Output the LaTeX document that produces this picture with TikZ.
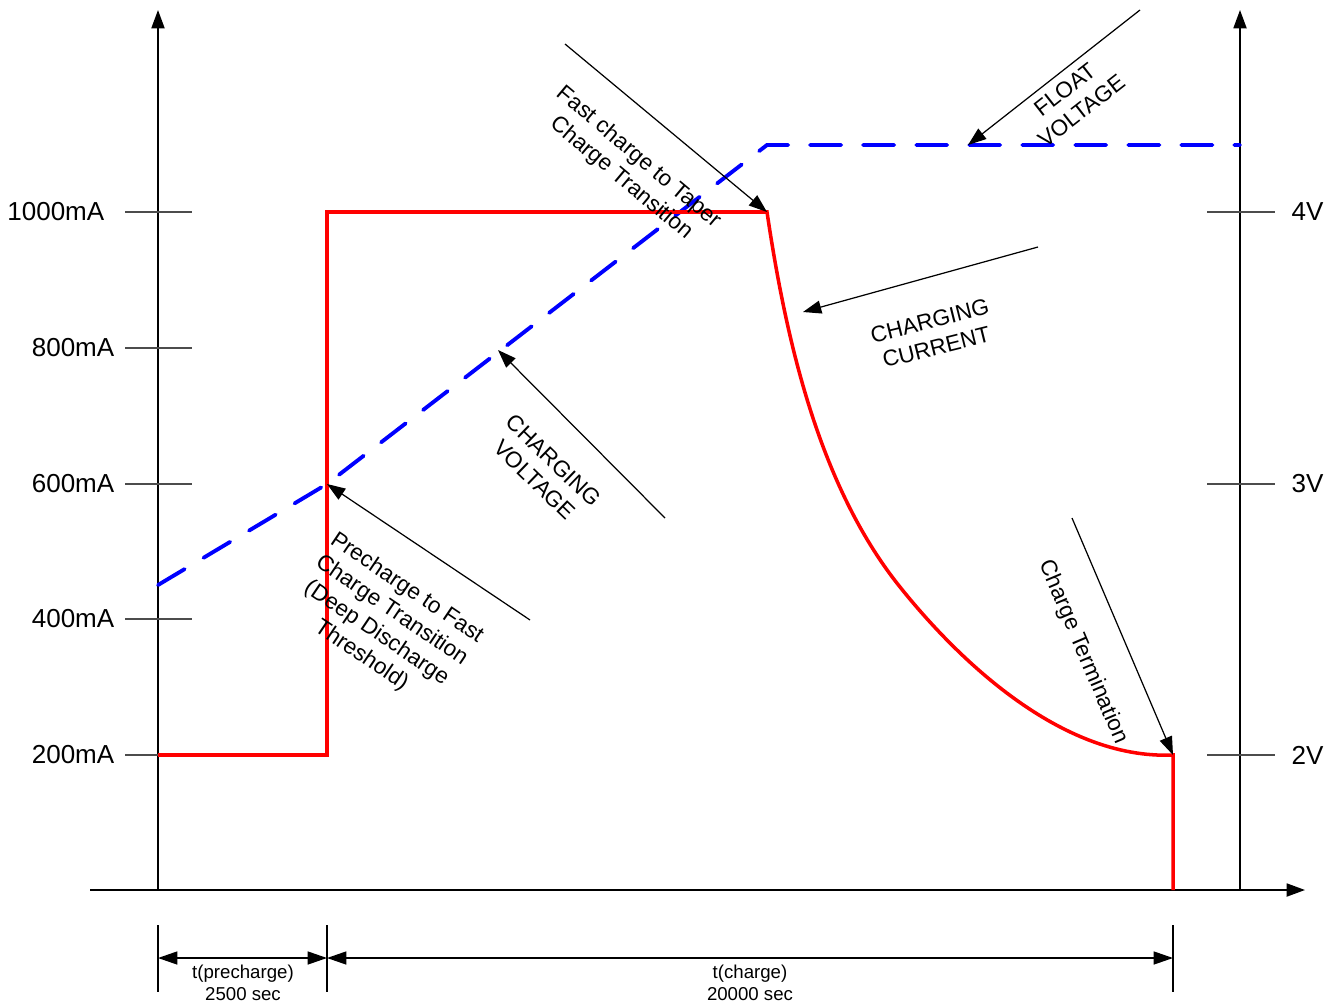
\documentclass[tikz,border=0pt]{standalone}
\usepackage{fontspec}
\setmainfont{Liberation Sans}
\usepackage{xcolor}
\usepackage{tikz}
\usetikzlibrary{arrows.meta}

\begin{document}
\begin{tikzpicture}[x=0.01cm, y=-0.01cm,
        axis/.style={line width=0.5pt, -{Triangle[length=5.2pt,width=3.7pt]}},
        tickmark/.style={line width=0.5pt, black!70},
        current/.style={line width=1pt, red},
        voltage/.style={line width=1.1pt, blue, line cap=round, dash pattern=on 0.31cm off 0.22cm},
        note/.style={line width=0.35pt, -{Triangle[length=5.2pt,width=3.7pt]}},
        dimline/.style={line width=0.4pt, {Triangle[length=5.5pt,width=3.7pt]}-{Triangle[length=5.5pt,width=3.7pt]}},
        ylab/.style={font=\fontsize{7.4}{9}\selectfont, inner sep=0pt},
        notelab/.style={font=\fontsize{6.4}{7.7}\selectfont, align=center, inner sep=0pt},
        dimlab/.style={font=\fontsize{5.3}{6.2}\selectfont, align=center, inner sep=0pt, anchor=north}]

                \useasboundingbox (0,0) rectangle (1339,1006);

                % Punti notevoli
                \coordinate (origin) at (158,890);
                \coordinate (pre) at (327,755);
                \coordinate (thr) at (327,484);
                \coordinate (knee) at (767,212);
                \coordinate (vknee) at (767,145);
                \coordinate (mid) at (900,587);
                \coordinate (term) at (1173,755);

                % Asse x
                \draw[axis] (90,890) -- (1305,890);
                % Asse corrente
                \draw[axis] (origin) -- (158,10);
                % Asse tensione
                \draw[axis] (1240,890) -- (1240,10);

                % Tacche e etichette a sinistra
                \draw[tickmark] (125,212) -- (192,212);
                \draw[tickmark] (125,348) -- (192,348);
                \draw[tickmark] (125,484) -- (192,484);
                \draw[tickmark] (125,619) -- (192,619);
                \draw[tickmark] (125,755) -- (192,755);
                \node[ylab, anchor=east] (i1000) at (105,212) {1000mA};
                \node[ylab, anchor=east] (i800) at (115,348) {800mA};
                \node[ylab, anchor=east] (i600) at (115,484) {600mA};
                \node[ylab, anchor=east] (i400) at (115,619) {400mA};
                \node[ylab, anchor=east] (i200) at (115,755) {200mA};

                % Tacche e etichette a destra
                \draw[tickmark] (1207,212) -- (1275,212);
                \draw[tickmark] (1207,484) -- (1275,484);
                \draw[tickmark] (1207,755) -- (1275,755);
                \node[ylab, anchor=west] (v4) at (1291,212) {4V};
                \node[ylab, anchor=west] (v3) at (1291,484) {3V};
                \node[ylab, anchor=west] (v2) at (1291,755) {2V};

                % Tensione
                \draw[voltage] (158,585) -- (thr) -- (vknee) -- (1240,145);

                % Corrente
                \draw[current] (158,755) -- (pre) -- (327,212) -- (knee)
                    .. controls (786,340) and (819,486) .. (mid)
                    .. controls (956,657) and (1060,760) .. (term) -- (1173,890);

                % Frecce di commento
                \coordinate (fastT) at (565,44);
                \coordinate (floatT) at (1140,10);
                \coordinate (floatH) at (968,145);
                \coordinate (curT) at (1038,247);
                \coordinate (curH) at (803,312);
                \coordinate (voltT) at (665,518);
                \coordinate (voltH) at (498,350);
                \coordinate (preT) at (530,620);
                \coordinate (termT) at (1072,518);

                \draw[note] (fastT) -- (knee);
                \draw[note] (floatT) -- (floatH);
                \draw[note] (curT) -- (curH);
                \draw[note] (voltT) -- (voltH);
                \draw[note] (preT) -- (thr);
                \draw[note] (termT) -- (term);

                \node[notelab, rotate=-40] (fastlab) at (630,168) {Fast charge to Taper\\Charge Transition};
                \node[notelab, rotate=38] (floatlab) at (1073,100) {FLOAT\\VOLTAGE};
                \node[notelab, rotate=14] (curlab) at (933,334) {CHARGING\\CURRENT};
                \node[notelab, rotate=-44] (voltlab) at (544,470) {CHARGING\\VOLTAGE};
                \node[notelab, rotate=-34] (prelab) at (384,622) {Precharge to Fast\\Charge Transition\\(Deep Discharge\\Threshold)};
                \node[notelab, rotate=-67] (termlab) at (1083,652) {Charge Termination};

                % Quote dei tempi
                \draw[line width=0.4pt] (158,925) -- (158,992);
                \draw[line width=0.4pt] (327,925) -- (327,992);
                \draw[line width=0.4pt] (1173,925) -- (1173,992);
                \coordinate (d0) at (158,958);
                \coordinate (d1) at (327,958);
                \coordinate (d2) at (1173,958);
                \draw[dimline] (d0) -- (d1);
                \draw[dimline] (d1) -- (d2);
                \node[dimlab] (tpre) at (243,964) {t(precharge)\\2500 sec};
                \node[dimlab] (tchg) at (750,964) {t(charge)\\20000 sec};
\end{tikzpicture}
\end{document}
